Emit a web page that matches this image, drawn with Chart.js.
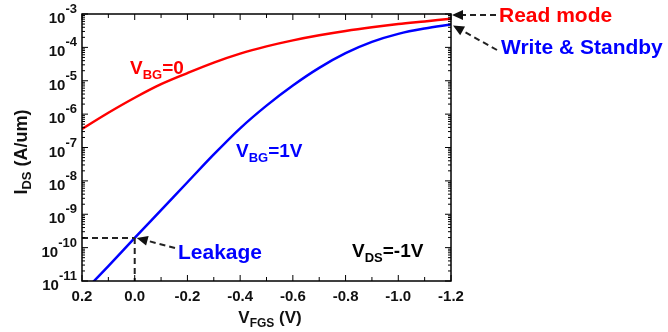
<!DOCTYPE html>
<html>
<head>
<meta charset="utf-8">
<script src="https://cdn.jsdelivr.net/npm/chart.js@4.4.1/dist/chart.umd.min.js"></script>
<style>
    html, body { margin: 0; padding: 0; background: #fff; }
    canvas { display: block; }
</style>
</head>
<body>
<canvas id="idsChart" width="668" height="332"></canvas>
<script>
// V_FGS sweep (V)
const vfgs = [0.2, 0.1, 0.0, -0.1, -0.2, -0.3, -0.4, -0.5, -0.6, -0.7, -0.8, -0.9, -1.0, -1.1, -1.2];
// I_DS (A/um)
const idsVbg0 = [3.6e-7, 1.1e-6, 3.1e-6, 7.9e-6, 1.7e-5, 3.5e-5, 6.5e-5, 1.07e-4, 1.62e-4, 2.3e-4, 3.1e-4, 4.0e-4, 5.0e-4, 6.0e-4, 7.2e-4];
const idsVbg1 = [4.2e-12, 2.8e-11, 1.95e-10, 1.33e-9, 9.1e-9, 6.2e-8, 3.76e-7, 1.8e-6, 7.2e-6, 2.43e-5, 6.7e-5, 1.46e-4, 2.54e-4, 3.67e-4, 4.84e-4];
// axis ticks
const yTickExps = [-3, -4, -5, -6, -7, -8, -9, -10, -11];
const xTickVals = [0.2, 0.0, -0.2, -0.4, -0.6, -0.8, -1.0, -1.2];
const xTickLabels = ['0.2', '0.0', '-0.2', '-0.4', '-0.6', '-0.8', '-1.0', '-1.2'];

const FONT = "'Liberation Sans', Arial, sans-serif";

function toPoints(xs, ys) {
    return xs.map((x, i) => ({ x: x, y: ys[i] }));
}

// draw text made of parts [text, size, dy]
function rich(ctx, x, y, parts, align) {
    let total = 0;
    parts.forEach(p => {
        ctx.font = 'bold ' + p[1] + 'px ' + FONT;
        total += ctx.measureText(p[0]).width;
    });
    let cx = x;
    if (align === 'right') cx = x - total;
    if (align === 'center') cx = x - total / 2;
    ctx.textAlign = 'left';
    ctx.textBaseline = 'alphabetic';
    parts.forEach(p => {
        ctx.font = 'bold ' + p[1] + 'px ' + FONT;
        ctx.fillText(p[0], cx, y + (p[2] || 0));
        cx += ctx.measureText(p[0]).width;
    });
}

function dashedArrow(ctx, x1, y1, x2, y2) {
    const ang = Math.atan2(y2 - y1, x2 - x1);
    const len = 11, half = 5;
    const bx = x2 - Math.cos(ang) * len, by = y2 - Math.sin(ang) * len;
    ctx.save();
    ctx.strokeStyle = '#222';
    ctx.fillStyle = '#111';
    ctx.lineWidth = 2;
    ctx.setLineDash([6, 4]);
    ctx.beginPath();
    ctx.moveTo(x1, y1);
    ctx.lineTo(bx, by);
    ctx.stroke();
    ctx.setLineDash([]);
    ctx.beginPath();
    ctx.moveTo(x2, y2);
    ctx.lineTo(bx - Math.sin(ang) * half, by + Math.cos(ang) * half);
    ctx.lineTo(bx + Math.sin(ang) * half, by - Math.cos(ang) * half);
    ctx.closePath();
    ctx.fill();
    ctx.restore();
}

const frame = {
    id: 'frame',
    afterDraw(chart) {
        const ctx = chart.ctx;
        const a = chart.chartArea;
        const xs = chart.scales.x, ys = chart.scales.y;
        ctx.save();

        // leakage guide lines
        const lx = xs.getPixelForValue(0.0);
        const ly = ys.getPixelForValue(idsVbg1[vfgs.indexOf(0.0)]);
        ctx.strokeStyle = '#222';
        ctx.lineWidth = 2;
        ctx.setLineDash([6, 4]);
        ctx.beginPath();
        ctx.moveTo(a.left, ly);
        ctx.lineTo(lx, ly);
        ctx.moveTo(lx, ly);
        ctx.lineTo(lx, a.bottom);
        ctx.stroke();
        ctx.setLineDash([]);

        // box
        ctx.strokeStyle = '#000';
        ctx.lineWidth = 1.5;
        ctx.strokeRect(a.left, a.top, a.right - a.left, a.bottom - a.top);

        // y ticks (log, major + minor)
        ctx.lineWidth = 1;
        ctx.beginPath();
        yTickExps.forEach(e => {
            for (let m = 1; m <= 9; m++) {
                const v = m * Math.pow(10, e);
                if (v > 1e-3 * 1.0001 || v < 1e-11 * 0.9999) continue;
                const py = ys.getPixelForValue(v);
                const l = m === 1 ? 6 : 3;
                ctx.moveTo(a.left, py); ctx.lineTo(a.left + l, py);
                ctx.moveTo(a.right, py); ctx.lineTo(a.right - l, py);
            }
        });
        // x ticks
        for (let i = 0; i <= 14; i++) {
            const v = 0.2 - i * 0.1;
            const px = xs.getPixelForValue(v);
            const l = i % 2 === 0 ? 6 : 4;
            ctx.moveTo(px, a.bottom); ctx.lineTo(px, a.bottom - l);
            ctx.moveTo(px, a.top); ctx.lineTo(px, a.top + l);
        }
        ctx.stroke();

        // y tick labels
        ctx.fillStyle = '#111';
        yTickExps.forEach(e => {
            const py = ys.getPixelForValue(Math.pow(10, e));
            const sup = String(e);
            ctx.font = 'bold 13px ' + FONT;
            const sw = ctx.measureText(sup).width;
            const rx = 77;
            ctx.textAlign = 'right';
            ctx.textBaseline = 'alphabetic';
            ctx.fillText(sup, rx, py - 1);
            ctx.font = 'bold 15px ' + FONT;
            ctx.fillText('10', rx - sw, py + 9);
        });

        // x tick labels
        ctx.font = 'bold 15px ' + FONT;
        ctx.textAlign = 'center';
        ctx.textBaseline = 'alphabetic';
        xTickVals.forEach((v, i) => {
            ctx.fillText(xTickLabels[i], xs.getPixelForValue(v), 301);
        });

        // axis titles
        rich(ctx, 270, 323, [['V', 17], ['FGS', 12, 4], [' (V)', 17]], 'center');
        ctx.save();
        ctx.translate(27, 152);
        ctx.rotate(-Math.PI / 2);
        rich(ctx, 0, 0, [['I', 18], ['DS', 13, 4], [' (A/um)', 18]], 'center');
        ctx.restore();

        // annotations
        ctx.fillStyle = '#ff0000';
        rich(ctx, 130, 74, [['V', 19], ['BG', 13, 5], ['=0', 19]]);
        rich(ctx, 499, 22, [['Read mode', 21]]);
        ctx.fillStyle = '#0000ff';
        rich(ctx, 236, 157, [['V', 19], ['BG', 13, 5], ['=1V', 19]]);
        rich(ctx, 178, 259, [['Leakage', 21]]);
        rich(ctx, 501, 54, [['Write & Standby', 21]]);
        ctx.fillStyle = '#000';
        rich(ctx, 352, 257, [['V', 19], ['DS', 13, 5], ['=-1V', 19]]);

        const ex = xs.getPixelForValue(-1.2);
        dashedArrow(ctx, 496, 15, ex + 1, 15);
        dashedArrow(ctx, 497, 50, ex + 2, ys.getPixelForValue(idsVbg1[idsVbg1.length - 1]) + 1);
        dashedArrow(ctx, 175, 248, lx + 2, ly);

        ctx.restore();
    }
};

new Chart(document.getElementById('idsChart'), {
    type: 'line',
    data: {
        datasets: [{
            label: 'VBG=0',
            data: toPoints(vfgs, idsVbg0),
            borderColor: '#ff0000',
            borderWidth: 2.5,
            pointRadius: 0,
            cubicInterpolationMode: 'monotone',
            clip: 0
        }, {
            label: 'VBG=1V',
            data: toPoints(vfgs, idsVbg1),
            borderColor: '#0000ff',
            borderWidth: 2.5,
            pointRadius: 0,
            cubicInterpolationMode: 'monotone',
            clip: 0
        }]
    },
    options: {
        responsive: false,
        animation: false,
        layout: { padding: { left: 82, right: 217, top: 14, bottom: 51 } },
        scales: {
            x: { type: 'linear', reverse: true, min: -1.2, max: 0.2, display: false },
            y: { type: 'logarithmic', min: 1e-11, max: 1e-3, display: false }
        },
        plugins: {
            legend: { display: false },
            tooltip: { enabled: false }
        }
    },
    plugins: [frame]
});
</script>
</body>
</html>
